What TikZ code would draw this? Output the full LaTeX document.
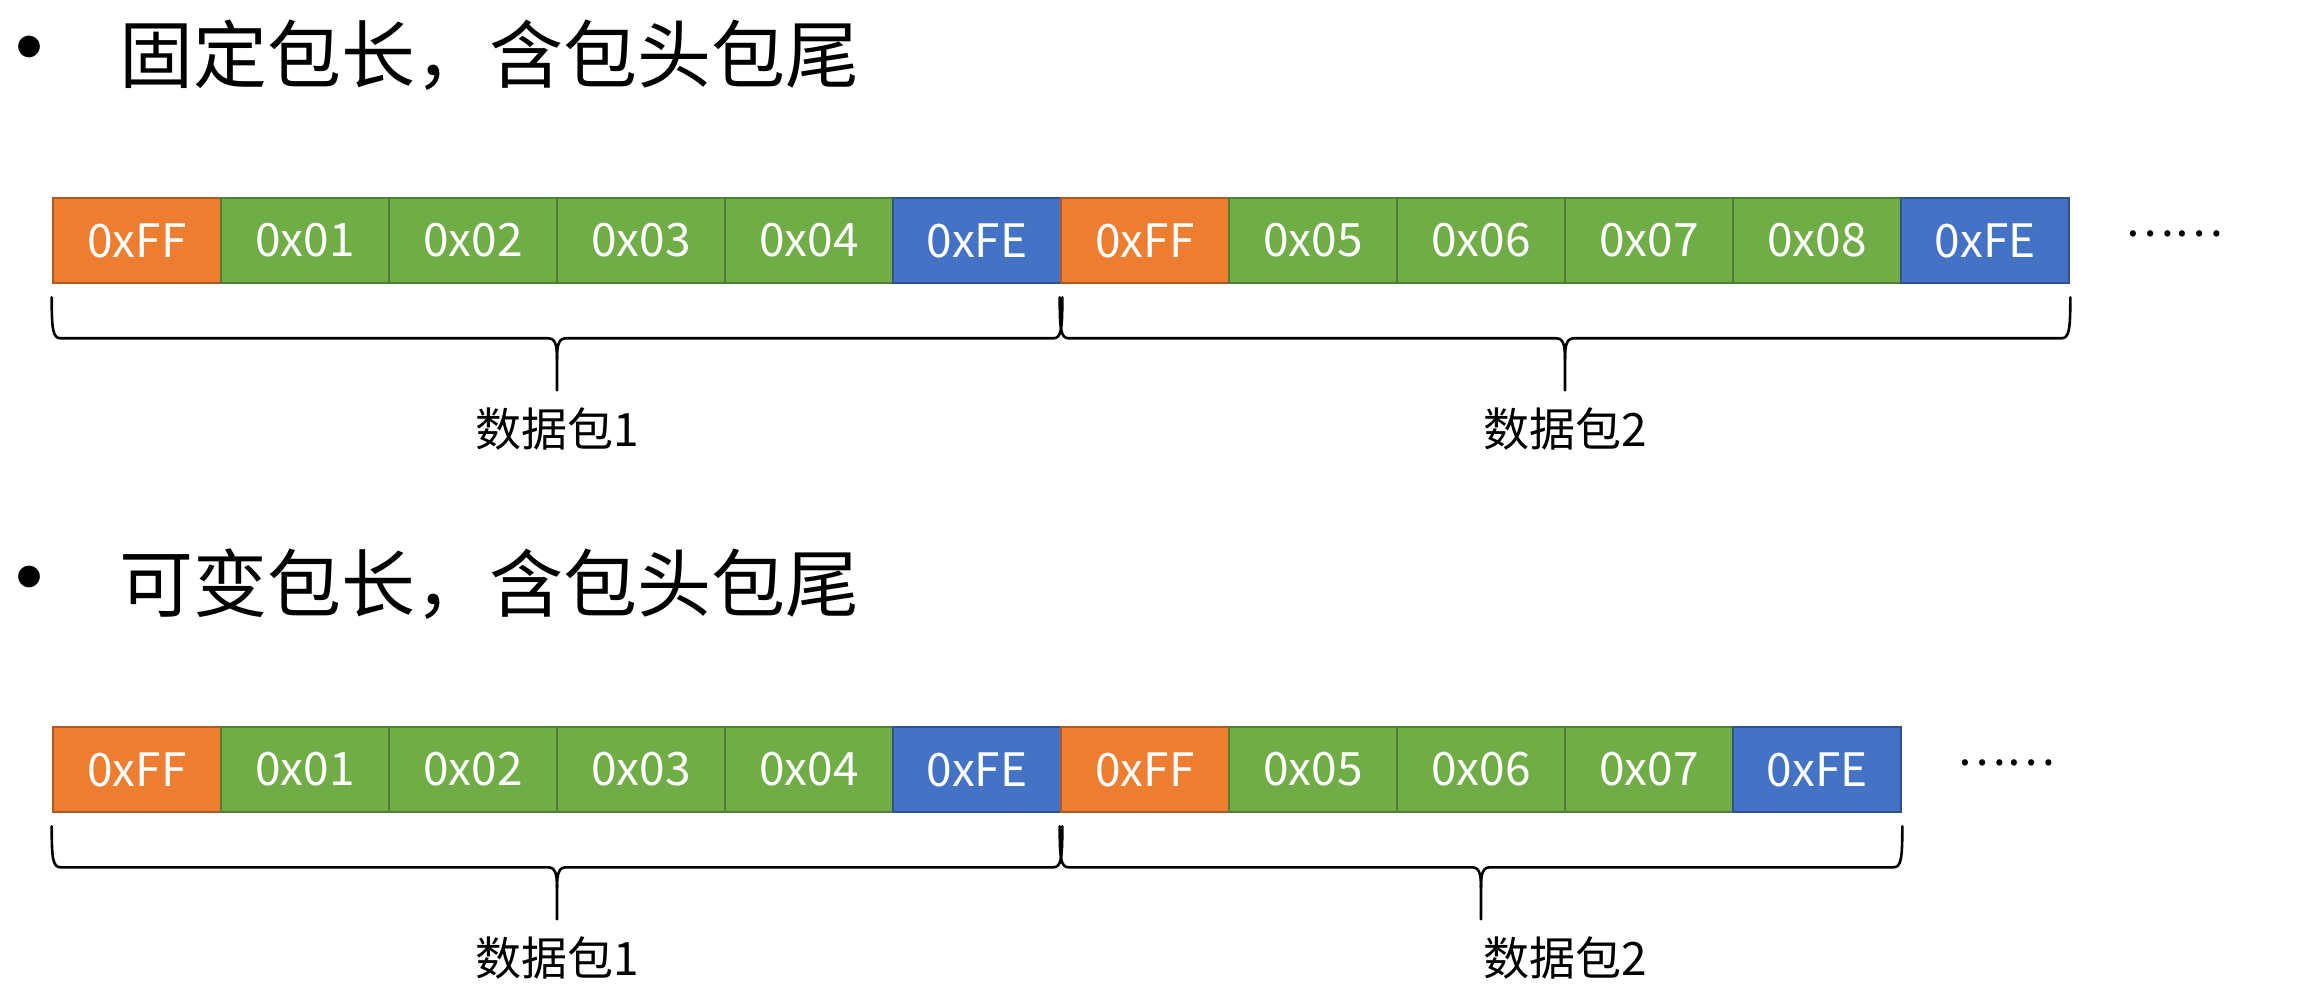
\documentclass[tikz,border=0pt]{standalone}
\usepackage{fontspec}
\setmainfont{Noto Sans CJK SC}
\newfontfamily\bulletfont{Liberation Sans}
\usetikzlibrary{calc}
\definecolor{ofill}{HTML}{ED7D31}
\definecolor{oline}{HTML}{AE5A21}
\definecolor{gfill}{HTML}{70AD47}
\definecolor{gline}{HTML}{507E32}
\definecolor{bfill}{HTML}{4472C4}
\definecolor{bline}{HTML}{2F528F}
\tikzset{
  cell/.style={draw, line width=1.3pt, minimum width=84pt, minimum height=42.5pt,
    inner sep=0pt, text=white, font=\fontsize{23pt}{23pt}\selectfont},
  head/.style={cell, fill=ofill, draw=oline},
  data/.style={cell, fill=gfill, draw=gline},
  tail/.style={cell, fill=bfill, draw=bline},
  titletext/.style={font=\fontsize{37pt}{37pt}\selectfont, anchor=west, inner sep=0pt},
  bulletmark/.style={font=\bulletfont\fontsize{40pt}{40pt}\selectfont, inner sep=0pt, anchor=base},
  lbl/.style={font=\fontsize{23pt}{23pt}\selectfont, inner sep=0pt},
  dotstext/.style={font=\fontsize{23pt}{23pt}\selectfont, inner sep=0pt},
  bracestyle/.style={line width=1.3pt, line join=round, line cap=round},
}
% brace under boxes #1 .. #2, middle coordinate named #3
\newcommand\pktbrace[3]{%
  \coordinate (#3) at ($(#1.south west)!0.5!(#2.south east)$);
  \draw[bracestyle]
    ($(#1.south west)+(0,13)$) .. controls +(0,32) and +(-8,0) .. ($(#1.south west)+(9,54)$)
    -- ($(#3)+(-9,54)$) .. controls +(7,0) and +(0,-14) .. ($(#3)+(0,74)$)
    -- ($(#3)+(0,106)$);
  \draw[bracestyle]
    ($(#2.south east)+(0,13)$) .. controls +(0,32) and +(8,0) .. ($(#2.south east)+(-9,54)$)
    -- ($(#3)+(9,54)$) .. controls +(-7,0) and +(0,-14) .. ($(#3)+(0,74)$);
}
\begin{document}
\begin{tikzpicture}[x=0.5pt,y=-0.5pt]
\useasboundingbox (0,0) rectangle (2321,999);
\fill[white] (0,0) rectangle (2321,999);

% ---------- row 1 ----------
\node[bulletmark] (bul1) at (30,74) {•};
\node[titletext] (title1) at (119,55) {固定包长，含包头包尾};
\foreach \s/\t [count=\i] in {head/0xFF,data/0x01,data/0x02,data/0x03,data/0x04,tail/0xFE,
    head/0xFF,data/0x05,data/0x06,data/0x07,data/0x08,tail/0xFE}
  {\node[\s] (r1b\i) at ({137+168*(\i-1)},240.5) {\t};}
\node[dotstext] (r1dots) at (2174,234) {……};
\pktbrace{r1b1}{r1b6}{r1m1}
\pktbrace{r1b7}{r1b12}{r1m2}
\node[lbl] (r1l1) at ($(r1m1)+(0,145)$) {数据包1};
\node[lbl] (r1l2) at ($(r1m2)+(0,145)$) {数据包2};

% ---------- row 2 ----------
\node[bulletmark] (bul2) at (30,603) {•};
\node[titletext] (title2) at (119,584) {可变包长，含包头包尾};
\foreach \s/\t [count=\i] in {head/0xFF,data/0x01,data/0x02,data/0x03,data/0x04,tail/0xFE,
    head/0xFF,data/0x05,data/0x06,data/0x07,tail/0xFE}
  {\node[\s] (r2b\i) at ({137+168*(\i-1)},769.5) {\t};}
\node[dotstext] (r2dots) at (2006,763) {……};
\pktbrace{r2b1}{r2b6}{r2m1}
\pktbrace{r2b7}{r2b11}{r2m2}
\node[lbl] (r2l1) at ($(r2m1)+(0,145)$) {数据包1};
\node[lbl] (r2l2) at ($(r1l2)+(0,529)$) {数据包2};
\end{tikzpicture}
\end{document}
